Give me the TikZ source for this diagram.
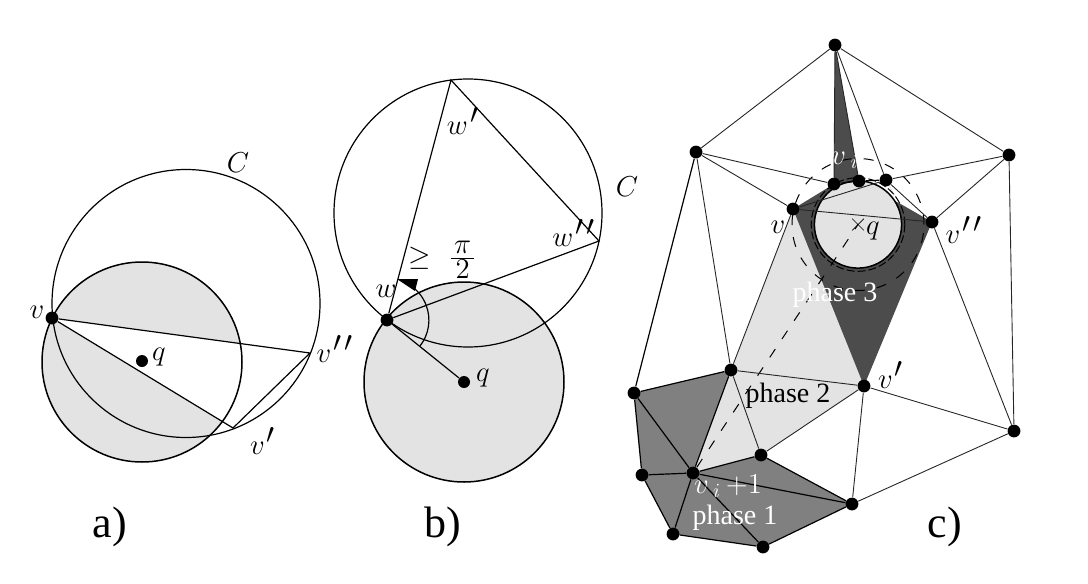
\documentclass[tikz,border=0pt]{standalone}
\usepackage[no-math]{fontspec}
\setmainfont{Liberation Serif}
\usepackage{amsmath}
\usepackage{amssymb}
\usetikzlibrary{backgrounds,shapes.misc}
\definecolor{lightgr}{gray}{0.89}
\definecolor{midgr}{gray}{0.5}
\definecolor{darkgr}{gray}{0.3}
\newcommand{\onepr}{^{\mkern2mu\textstyle\prime}}
\newcommand{\twopr}{^{\mkern2mu\textstyle\prime\mkern2mu\prime}}
\tikzset{
  dot/.style={circle,fill=black,inner sep=0pt,minimum size=6.4pt},
  lab/.style={inner sep=0pt,font=\fontsize{14.5}{16}\selectfont},
  wlab/.style={lab,text=white},
  phaselab/.style={inner sep=0pt,font=\fontsize{14}{16}\selectfont},
  partlab/.style={inner sep=0pt,font=\fontsize{22}{25}\selectfont},
  thinedge/.style={line width=0.45pt,black!85},
  edge/.style={line width=0.6pt},
  disc/.style={line width=0.75pt},
}
\begin{document}
\begin{tikzpicture}[x=0.5pt,y=-0.5pt]
\useasboundingbox (0,0) rectangle (1088,584);
% a)
\node[dot] (av) at (52,318) {};
\node[dot,minimum size=6pt] (aq) at (142,361) {};
\coordinate (av1) at (233,428);
\coordinate (av2) at (310,353);
\coordinate (ac) at (186,303.5);
\coordinate (ad) at (142,362);
\begin{pgfonlayer}{background}
\fill[lightgr] (ad) circle [radius=50pt];
\fill[white] (av.center) -- (av2) -- (av1) -- cycle;
\end{pgfonlayer}
\draw[disc] (ad) circle [radius=50pt];
\draw[edge] (ac) circle [radius=67pt];
\draw[edge] (av) -- (av2) -- (av1) -- (av);
\node[lab] (alv) at (37,312) {$v$};
\node[lab] (alq) at (159,357) {$q$};
\node[lab] (alv2) at (335,349) {$v\twopr$};
\node[lab] (alv1) at (263,441) {$v\onepr$};
\node[lab] (alc) at (238,163) {$C$};
% b)
\node[dot] (bw) at (387,320) {};
\node[dot,minimum size=6pt] (bq) at (464,382) {};
\coordinate (bw1) at (451,80);
\coordinate (bw2) at (599,241);
\coordinate (bc) at (468,213);
\coordinate (bs) at (420,346);
\coordinate (bt) at (397,279);
\coordinate (bt1) at (418,279);
\coordinate (bt2) at (415,291);
\begin{pgfonlayer}{background}
\fill[lightgr] (bq) circle [radius=50pt];
\end{pgfonlayer}
\draw[disc] (bq) circle [radius=50pt];
\draw[edge] (bc) circle [radius=67pt];
\draw[edge] (bw) -- (bw1) -- (bw2) -- (bw);
\draw[edge] (bw) -- (bq);
\draw[edge] (bs) arc [start angle=-38,end angle=60,radius=21pt];
\fill (bt) -- (bt1) -- (bt2) -- cycle;
\node[lab] (blw) at (386,291) {$w$};
\node[lab] (blw1) at (463,121) {$w\onepr$};
\node[lab] (blw2) at (574,233) {$w\twopr$};
\node[lab] (blq) at (483,378) {$q$};
\node[lab] (blc) at (627,187) {$C$};
\node[lab] (bla) at (442.5,260) {$\geq\hspace{5pt}\frac{\textstyle\mkern2mu\pi\mkern2mu}{\textstyle 2}$};
% c)
\node[dot] (t) at (835,45) {};
\node[dot] (a) at (696,152) {};
\node[dot] (b) at (1009,155) {};
\node[dot] (c1) at (834,184) {};
\node[dot] (c2) at (859,181) {};
\node[dot] (c3) at (886,180) {};
\node[dot] (v) at (793,209) {};
\node[dot] (v2) at (932,222) {};
\node[dot] (l) at (731,370) {};
\node[dot] (v1) at (864,386) {};
\node[dot] (r) at (1014,431) {};
\node[dot] (p1) at (634,393) {};
\node[dot] (p2) at (642,475) {};
\node[dot] (p3) at (673,534) {};
\node[dot] (p4) at (763,547) {};
\node[dot] (n) at (852,504) {};
\node[dot] (m) at (761,455) {};
\node[dot] (vn) at (693,473) {};
\coordinate (q) at (858,224.5);
\coordinate (tg) at (899,203);
\begin{pgfonlayer}{background}
\fill[midgr] (p1.center) -- (l.center) -- (vn.center) -- (m.center) -- (n.center) -- (p4.center) -- (p3.center) -- (p2.center) -- cycle;
\fill[lightgr] (v.center) -- (v1.center) -- (m.center) -- (vn.center) -- (l.center) -- cycle;
\fill[darkgr] (v.center) -- (c1.center) -- (c3.center) -- (tg) -- (v2.center) -- (v1.center) -- cycle;
\fill[white] (c2.center) -- (c3.center) -- (tg) -- cycle;
\fill[darkgr] (t.center) -- (c1.center) -- (c2.center) -- cycle;
\fill[lightgr] (q) circle [radius=21.8pt];
\end{pgfonlayer}
\draw[disc] (q) circle [radius=21.8pt];
\draw[edge,dash pattern=on 4pt off 1.5pt,line width=0.5pt] (q) circle [radius=23.4pt];
\draw[edge,dash pattern=on 5pt off 6pt,line width=0.5pt] (q) circle [radius=33pt];
\draw[edge,dash pattern=on 5pt off 6pt,line width=0.5pt] (vn) -- (q);
\node[cross out,draw,line width=0.35pt,inner sep=0pt,minimum size=5.5pt] (cq) at (q) {};
% thin edges
\foreach \i/\j in {t/a,t/b,t/c1,t/c2,t/c3,a/c1,a/v,a/l,b/c3,b/v2,b/r,v/c3,v/v2,c3/v2,v2/r,v1/r,v1/n,n/r,l/v1,l/m,m/v1,v/l}
  \draw[thinedge] (\i) -- (\j);
% edges of the dark part
\foreach \i/\j in {a/p1,p1/l,l/vn,p1/p2,p1/vn,p2/vn,p2/p3,p3/vn,p3/p4,p4/vn,p4/n,vn/n,vn/m,m/n,c1/c2,c2/c3}
  \draw[edge] (\i) -- (\j);
\node[lab] (clv) at (778,227) {$v$};
\node[lab] (clv2) at (964,230) {$v\twopr$};
\node[lab] (clv1) at (891,375) {$v\onepr$};
\node[lab] (clq) at (873,231) {$q$};
\node[wlab] (clvi) at (845,160) {$v_{\mkern5mu i}$};
\node[wlab] (clvn) at (728,486) {$v_{\mkern5mu i}\mkern3mu{+}1$};
\node[phaselab,text=white] (ph1) at (735,518) {phase 1};
\node[phaselab] (ph2) at (788,396) {phase 2};
\node[phaselab,text=white] (ph3) at (835,295) {phase 3};
\node[partlab] (pa) at (110,527) {a)};
\node[partlab] (pb) at (443,527) {b)};
\node[partlab] (pc) at (945,527) {c)};
\end{tikzpicture}
\end{document}
